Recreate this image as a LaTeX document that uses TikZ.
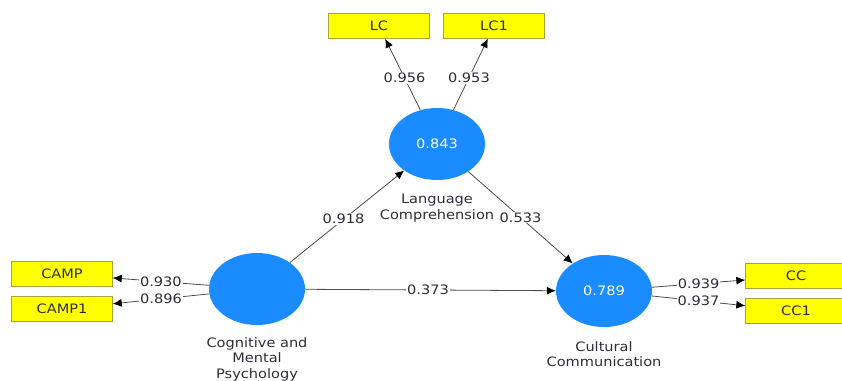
\documentclass[tikz,border=0pt]{standalone}
\usepackage{fontspec}
\setmainfont{DejaVu Sans}[FakeStretch=1.12]
\usetikzlibrary{shapes.geometric,arrows.meta,positioning}
\definecolor{latblue}{RGB}{26,140,255}
\definecolor{indyel}{RGB}{255,255,0}
\definecolor{indrim}{RGB}{165,165,60}
\definecolor{txtcol}{RGB}{45,45,60}
\begin{document}
\begin{tikzpicture}[x=1pt,y=-1pt,
	font=\fontsize{13}{15.5}\selectfont,
	latent/.style={ellipse,fill=latblue,text=white,minimum width=96pt,minimum height=72pt,inner sep=0pt},
	indicator/.style={rectangle,draw=indrim,fill=indyel,text=txtcol,minimum width=101pt,minimum height=25pt,inner sep=0pt},
	caption/.style={align=center,text=txtcol,inner sep=0pt,below=14pt of #1},
	path/.style={draw=black!70,line width=0.8pt,-{Latex[length=9pt,width=8pt,fill=black,color=black]}},
	coef/.style={fill=white,text=txtcol,inner sep=1pt}]
	\useasboundingbox (0,0) rectangle (842,380);
	% constructs
	\node[latent] (cmp) at (257,289) {};
	\node[latent] (lang) at (437,144) {0.843};
	\node[latent] (cul) at (604,291) {0.789};
	\node[caption=cmp,below=12pt of cmp] (cmplbl) {Cognitive and\\Mental\\Psychology};
	\node[caption=lang] (langlbl) {Language\\Comprehension};
	\node[caption=cul] (cullbl) {Cultural\\Communication};
	% indicators
	\node[indicator] (lc) at (379,26) {LC};
	\node[indicator] (lc1) at (494,26) {LC1};
	\node[indicator] (camp) at (62,274) {CAMP};
	\node[indicator] (camp1) at (62,309) {CAMP1};
	\node[indicator] (cc) at (796,276) {CC};
	\node[indicator] (cc1) at (796,311) {CC1};
	% structural paths
	\draw[path] (cmp) -- (lang) node[coef,pos=0.47] {0.918};
	\draw[path] (lang) -- (cul) node[coef,pos=0.5] {0.533};
	\draw[path] (cmp) -- (cul) node[coef,pos=0.49] {0.373};
	% loadings
	\draw[path] (lang) -- (lc) node[coef,pos=0.45] {0.956};
	\draw[path] (lang) -- (lc1) node[coef,pos=0.45] {0.953};
	\draw[path] (cmp) -- (camp) node[coef,pos=0.5] {0.930};
	\draw[path] (cmp) -- (camp1) node[coef,pos=0.5] {0.896};
	\draw[path] (cul) -- (cc) node[coef,pos=0.5] {0.939};
	\draw[path] (cul) -- (cc1) node[coef,pos=0.5] {0.937};
\end{tikzpicture}
\end{document}
